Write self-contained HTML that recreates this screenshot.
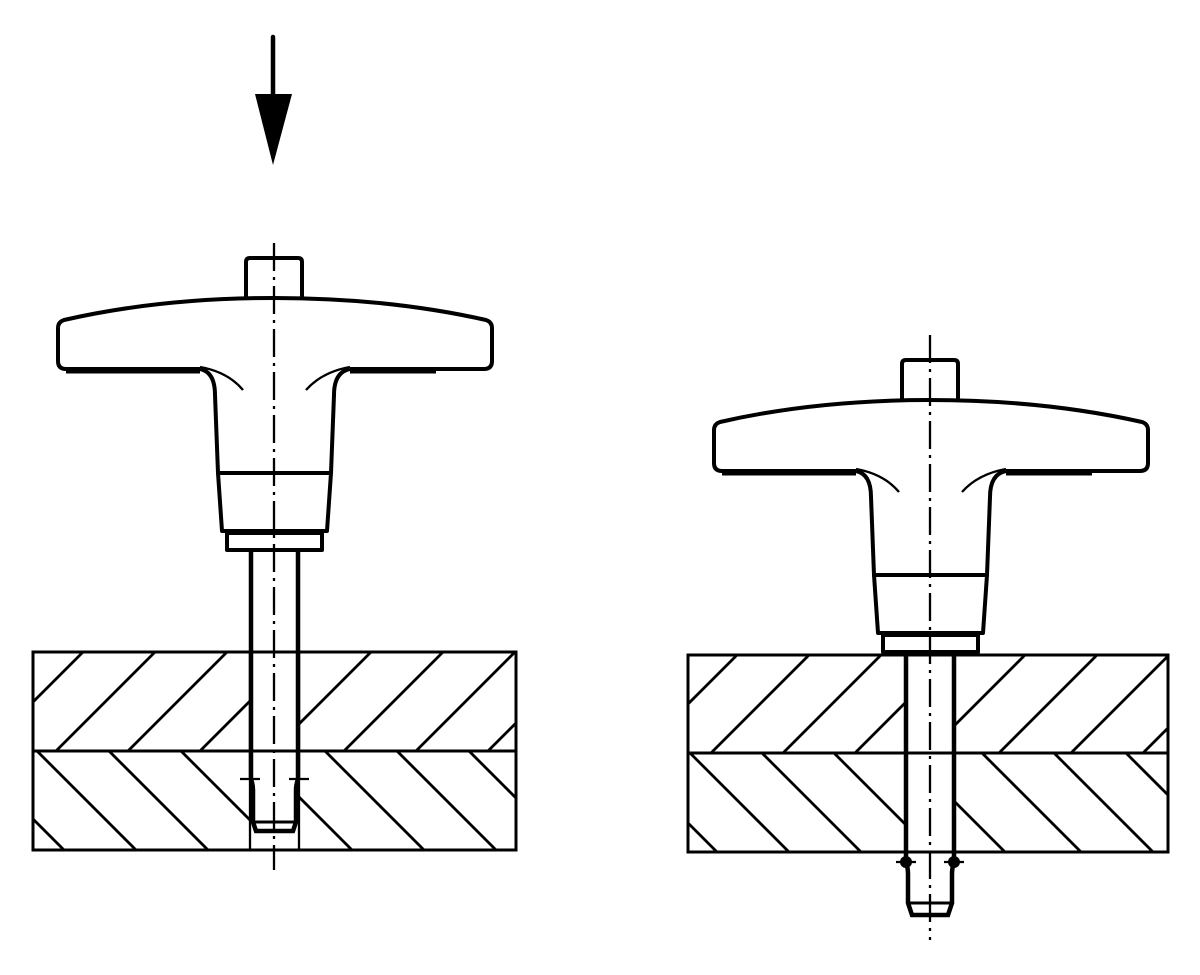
<!DOCTYPE html>
<html><head><meta charset="utf-8"><style>html,body{margin:0;padding:0;background:#fff}svg{display:block}</style></head>
<body>
<svg width="1200" height="975" viewBox="0 0 1200 975" xmlns="http://www.w3.org/2000/svg">
<defs>
<clipPath id="cTL"><path d="M33 652H250V751H33Z M299 652H516V751H299Z"/></clipPath>
<clipPath id="cBL"><path d="M33 751H250V850H33Z M299 751H516V850H299Z"/></clipPath>
<clipPath id="cTR"><path d="M688 655H905V753H688Z M954 655H1168V753H954Z"/></clipPath>
<clipPath id="cBR"><path d="M688 753H905V852H688Z M954 753H1168V852H954Z"/></clipPath>
<g id="handle" fill="none" stroke="#000" stroke-linejoin="round">
  <path d="M246 298V262Q246 258 250 258H298Q302 258 302 262V298" stroke-width="4"/>
  <path d="M200 369H66Q58 369 58 361V328Q58 322 64 320Q160 298 274 298Q388 298 486 320Q492 322 492 328V361Q492 369 484 369H350" stroke-width="4"/>
  <path d="M66 371H200 M350 371H436" stroke-width="5"/>
  <path d="M200 369Q215 372 215 395L218 473L222 531H327L331 473L334 395Q334 372 350 369" stroke-width="4"/>
  <path d="M218 473H331" stroke-width="4"/>
  <path d="M200 367Q228 372 243 390 M350 367Q322 372 306 390" stroke-width="2.3"/>
  <rect x="227" y="533" width="95" height="17" stroke-width="4"/>
</g>
</defs>

<line x1="273" y1="37" x2="273" y2="96" stroke="#000" stroke-width="4.5" stroke-linecap="round"/>
<polygon points="255,94 292,94 273,165" fill="#000"/>

<use href="#handle"/>
<g fill="none" stroke="#000">
  <rect x="33" y="652" width="483" height="198" stroke-width="3"/>
  <line x1="33" y1="751" x2="516" y2="751" stroke-width="3"/>
  <g clip-path="url(#cTL)" stroke-width="2.8">
    <path d="M83 652l-120 120 M155 652l-120 120 M227 652l-120 120 M299 652l-120 120 M371 652l-120 120 M443 652l-120 120 M515 652l-120 120 M587 652l-120 120"/>
  </g>
  <g clip-path="url(#cBL)" stroke-width="2.8">
    <path d="M-35 751l120 120 M37 751l120 120 M109 751l120 120 M181 751l120 120 M253 751l120 120 M325 751l120 120 M397 751l120 120 M469 751l120 120"/>
  </g>
  <path d="M250 652V850 M299 652V850" stroke-width="2.3"/>
  <path d="M251 552V779Q253 785 253 790V822L256 831H293L296 822V790Q296 785 298 779V552" stroke-width="4.5"/>
  <path d="M253 822H296" stroke-width="3"/>
  <path d="M240 779H260 M289 779H309" stroke-width="2.3"/>
  <path d="M274 243V870" stroke-width="2.3" stroke-dasharray="28,6,3,6"/>
</g>

<use href="#handle" transform="translate(656,102)"/>
<g fill="none" stroke="#000">
  <rect x="688" y="655" width="480" height="197" stroke-width="3"/>
  <line x1="688" y1="753" x2="1168" y2="753" stroke-width="3"/>
  <g clip-path="url(#cTR)" stroke-width="2.8">
    <path d="M737 655l-120 120 M809 655l-120 120 M881 655l-120 120 M953 655l-120 120 M1025 655l-120 120 M1097 655l-120 120 M1169 655l-120 120 M1241 655l-120 120"/>
  </g>
  <g clip-path="url(#cBR)" stroke-width="2.8">
    <path d="M618 753l120 120 M690 753l120 120 M762 753l120 120 M834 753l120 120 M906 753l120 120 M982 753l120 120 M1054 753l120 120 M1126 753l120 120"/>
  </g>
  <path d="M906 654V862Q908 868 908 874V903L912 915H948L952 903V874Q952 868 954 862V654" stroke-width="4.5"/>
  <path d="M908 903H952" stroke-width="3"/>
  <path d="M896 862H916 M944 862H964" stroke-width="2.3"/>
  <path d="M930 335V940" stroke-width="2.3" stroke-dasharray="28,6,3,6"/>
</g>
<circle cx="906" cy="862" r="6" fill="#000"/>
<circle cx="954" cy="862" r="6" fill="#000"/>
</svg>
</body></html>
